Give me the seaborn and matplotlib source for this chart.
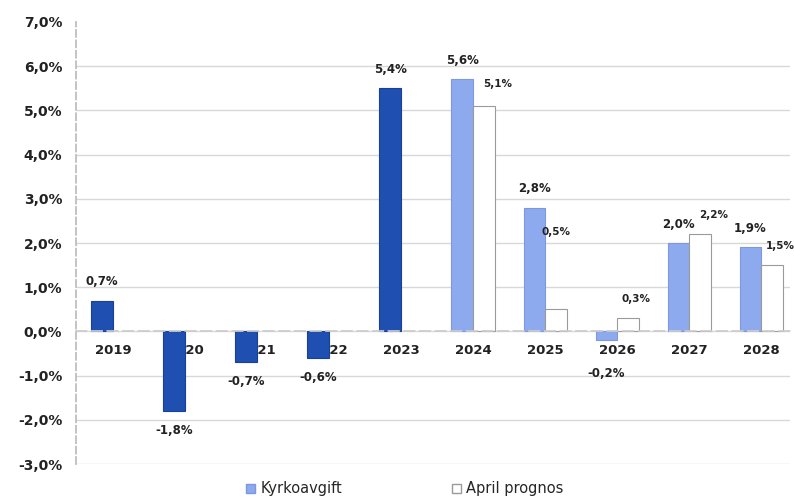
import matplotlib
matplotlib.use("Agg")
import matplotlib.pyplot as plt
import seaborn as sns
import pandas as pd
import numpy as np
from matplotlib.ticker import FuncFormatter, MultipleLocator
from matplotlib.patches import Patch

years = ["2019", "2020", "2021", "2022", "2023", "2024", "2025", "2026", "2027", "2028"]
kyrkoavgift = [0.7, -1.8, -0.7, -0.6, 5.5, 5.7, 2.8, -0.2, 2.0, 1.9]
kyrko_labels = ["0,7%", "-1,8%", "-0,7%", "-0,6%", "5,4%", "5,6%", "2,8%", "-0,2%", "2,0%", "1,9%"]
april_prognos = [np.nan, np.nan, np.nan, np.nan, np.nan, 5.1, 0.5, 0.3, 2.2, 1.5]
april_labels = ["5,1%", "0,5%", "0,3%", "2,2%", "1,5%"]
series_names = ["Kyrkoavgift", "April prognos"]

dark_blue = "#1f4fb0"
light_blue = "#8eaaee"

df = pd.DataFrame({
    "year": years * 2,
    "series": [series_names[0]] * len(years) + [series_names[1]] * len(years),
    "value": kyrkoavgift + april_prognos,
})

sns.set_theme(style="white")
plt.rcParams["font.family"] = ["DejaVu Sans"]

fig = plt.figure(figsize=(7.94, 4.97), dpi=100)
ax = fig.add_axes([0.096, 0.066, 0.899, 0.89])

sns.barplot(data=df, x="year", y="value", hue="series", order=years,
            hue_order=series_names, palette=[light_blue, "white"],
            width=0.6, dodge=True, ax=ax, legend=False, errorbar=None)

k_cont = ax.containers[0]
a_cont = ax.containers[1]
for i, p in enumerate(k_cont.patches):
    p.set_facecolor(dark_blue if i < 5 else light_blue)
    p.set_edgecolor("#16409a" if i < 5 else "#7d98e0")
    p.set_linewidth(0.8)
for p in a_cont.patches:
    p.set_facecolor("white")
    p.set_edgecolor("#9a9a9a")
    p.set_linewidth(0.8)

k_texts = ax.bar_label(k_cont, labels=kyrko_labels, padding=9, fontsize=8.5,
                       fontweight="bold", color="#222222")
# push the small negative label below the year label, as in the reference
k_texts[7].xyann = (0, -19)

# April prognos labels (offsets in points, as placed in the reference)
a_patches = [p for p in a_cont.patches if np.isfinite(p.get_height())]
a_patches = sorted(a_patches, key=lambda p: p.get_x())[-len(april_labels):]
offsets = [(10, 12), (0, 52), (6, 10), (10, 10), (6, 10)]
for p, lab, (dx, dy) in zip(a_patches, april_labels, offsets):
    ax.annotate(lab, (p.get_x() + p.get_width() / 2, p.get_height()),
                xytext=(dx, dy), textcoords="offset points", ha="center", va="bottom",
                fontsize=7.5, fontweight="bold", color="#222222")

ax.set_ylim(-3, 7)
ax.yaxis.set_major_locator(MultipleLocator(1))
ax.yaxis.set_major_formatter(FuncFormatter(lambda v, _: f"{v:.1f}%".replace(".", ",")))
ax.set_xlim(-0.51, 9.4)

ax.grid(axis="y", color="#d8d8d8", linewidth=1)
ax.set_axisbelow(True)
for gl, t in zip(ax.yaxis.get_gridlines(), ax.get_yticks()):
    if abs(t - 7) < 1e-6:
        gl.set_visible(False)

ax.spines["top"].set_visible(False)
ax.spines["right"].set_visible(False)
ax.spines["left"].set_color("#bbbbbb")
ax.spines["left"].set_linestyle((0, (4, 2)))
ax.spines["bottom"].set_position(("data", 0))
ax.spines["bottom"].set_color("#cccccc")
ax.spines["bottom"].set_linestyle((0, (6, 3)))

ax.tick_params(axis="x", length=0, pad=9, labelsize=9.5)
ax.tick_params(axis="y", length=0, pad=10, labelsize=10)
for lbl in ax.get_xticklabels() + ax.get_yticklabels():
    lbl.set_fontweight("bold")
    lbl.set_color("#222222")
ax.set_xlabel("")
ax.set_ylabel("")

handles = [Patch(facecolor=light_blue, edgecolor="#7d98e0"),
           Patch(facecolor="white", edgecolor="#9a9a9a")]
fig.legend(handles, series_names, loc="lower center", bbox_to_anchor=(0.51, -0.025),
           ncol=2, frameon=False, fontsize=10.5, handlelength=0.6, handleheight=0.6,
           columnspacing=7.5, handletextpad=0.4)

fig.savefig("out.png", dpi=100, facecolor="white")
